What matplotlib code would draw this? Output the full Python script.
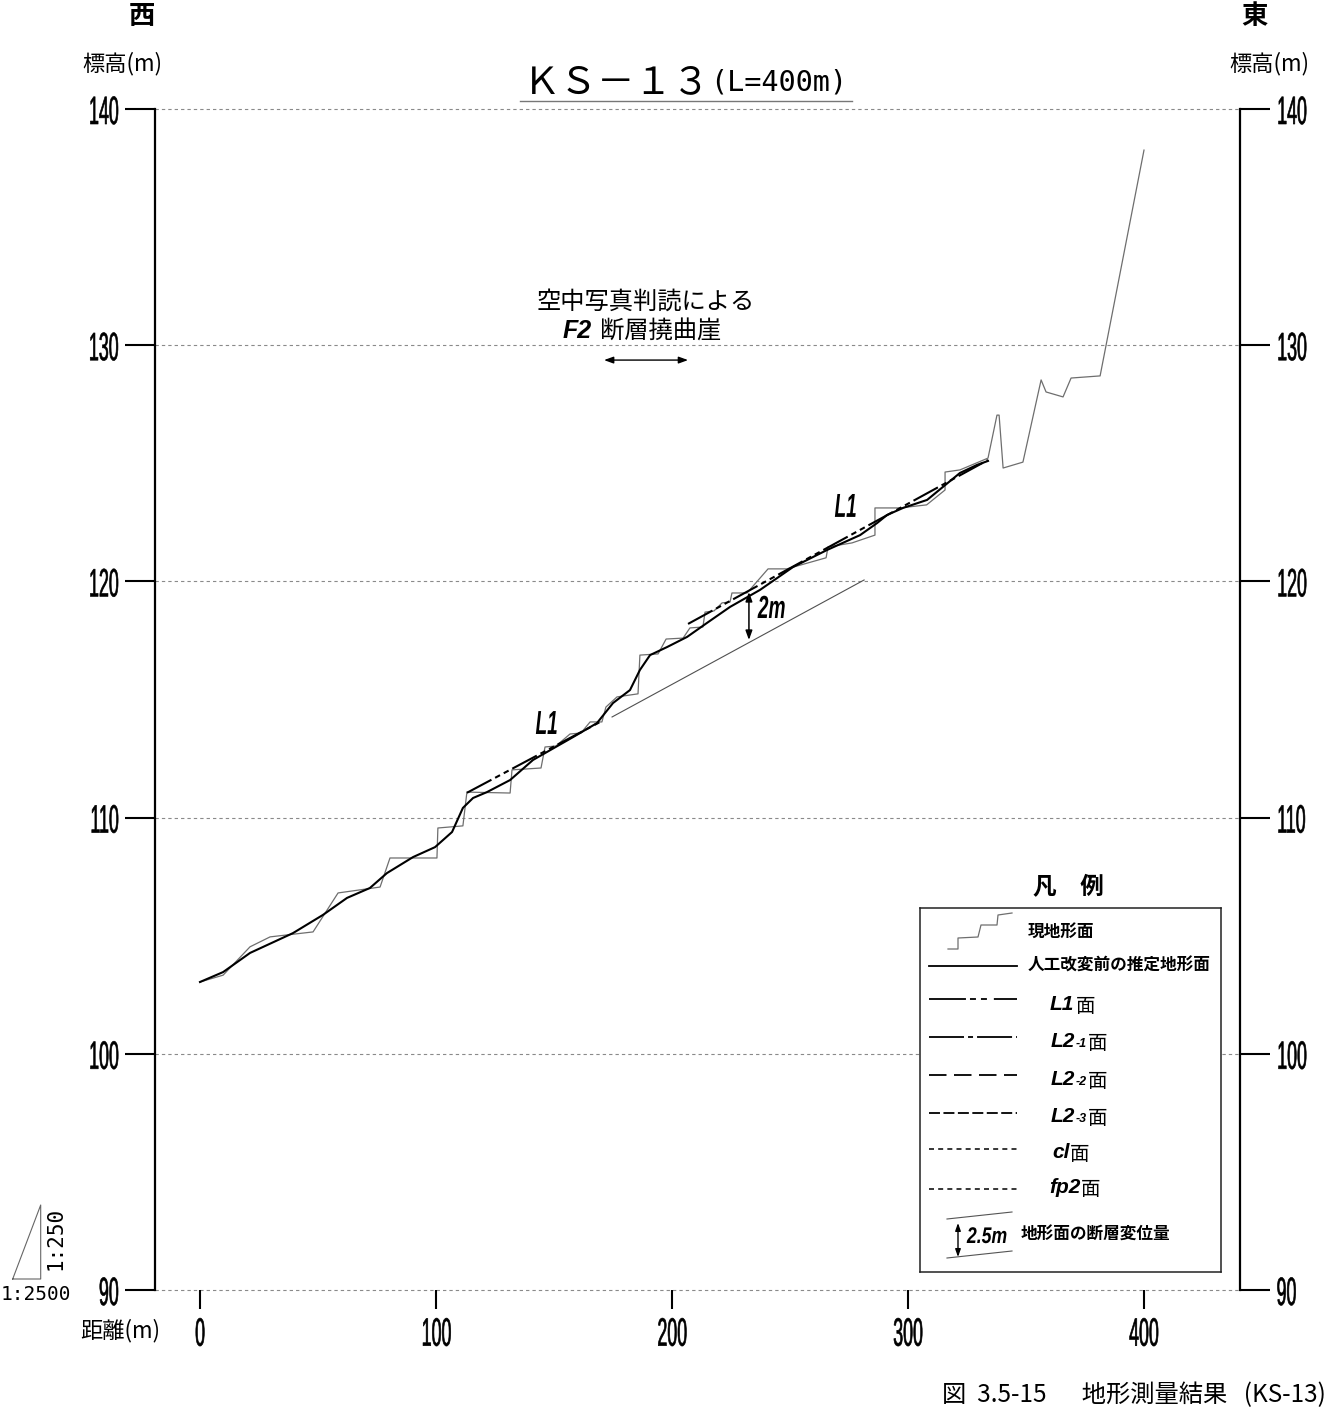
import matplotlib
matplotlib.use('Agg')
import matplotlib.pyplot as plt
import matplotlib.text as mtext
from matplotlib.patheffects import AbstractPathEffect
from matplotlib.transforms import Affine2D, Bbox
from matplotlib.lines import Line2D

plt.rcParams['lines.scale_dashes'] = False

# ---------------- data ----------------
# 現地形面 (current ground surface, survey line)
gray_x = [0, 9.8, 21.2, 29.7, 47.9, 58.5, 76.3, 80.5, 100.4, 100.8, 111.4, 113.1, 131.4, 132.2,
          144.5, 146.2, 150.8, 156.8, 161.4, 165.3, 170.3, 172.0, 176.7, 185.6, 186.4, 194.1,
          197.5, 204.7, 207.6, 213.1, 214.0, 217.8, 221.2, 224.6, 225.4, 231.8, 240.7, 248.7,
          265.3, 266.1, 276.3, 286.0, 286.0, 296.6, 307.9, 315.7, 315.7, 322.0, 333.9, 337.7,
          338.6, 340.3, 348.7, 356.4, 358.5, 365.7, 369.1, 381.4, 400.0]
gray_y = [103.04, 103.33, 104.53, 104.95, 105.16, 106.81, 107.06, 108.29, 108.29, 109.56, 109.65,
          111.08, 111.04, 112.02, 112.10, 112.99, 113.03, 113.54, 113.58, 114.05, 114.05, 114.68,
          115.11, 115.24, 116.88, 116.93, 117.56, 117.60, 118.03, 118.07, 118.70, 118.75, 119.09,
          119.13, 119.51, 119.51, 120.53, 120.53, 121.00, 121.46, 121.63, 121.96, 123.11, 123.11,
          123.24, 123.87, 124.63, 124.72, 125.22, 127.04, 127.04, 124.80, 125.05, 128.53, 128.02,
          127.81, 128.61, 128.70, 138.26]
# 人工改変前の推定地形面 (estimated surface before modification)
black_x = [0, 9.8, 21.2, 39.4, 52.1, 62.3, 72.0, 79.2, 90.3, 99.6, 106.8, 111.4, 115.7, 121.6,
           131.4, 141.1, 158.1, 168.2, 175.0, 182.2, 186.4, 190.7, 197.9, 206.4, 214.8, 224.6,
           237.3, 251.3, 265.7, 279.7, 286.9, 291.1, 297.9, 308.1, 314.8, 322.0, 329.2, 333.9]
black_y = [103.04, 103.46, 104.27, 105.11, 105.88, 106.60, 107.02, 107.65, 108.33, 108.75, 109.39,
           110.41, 110.83, 111.08, 111.59, 112.44, 113.41, 114.00, 114.85, 115.40, 116.25, 116.88,
           117.22, 117.65, 118.24, 118.92, 119.64, 120.61, 121.33, 121.96, 122.47, 122.81, 123.11,
           123.45, 124.00, 124.59, 124.93, 125.10]
# L1 surfaces
L1a_x = [113.1, 170.3]
L1a_y = [111.05, 114.09]
L1b_x = [206.8, 333.9]
L1b_y = [118.20, 125.14]
# displaced surface line and 2 m arrow
disp_x = [174.6, 281.4]
disp_y = [114.26, 120.06]
arrow2m_x = 232.6
arrow2m_y = [119.55, 117.52]
# F2 scarp (air-photo) arrow
f2_x = [171.2, 206.8]
f2_y = 129.37

yticks = [90, 100, 110, 120, 130, 140]
xticks = [0, 100, 200, 300, 400]
ytick_labels = [str(v) for v in yticks]
xtick_labels = [str(v) for v in xticks]

# ---------------- helpers ----------------
W, H = 1339, 1410
CJK = ['Noto Sans CJK JP', 'DejaVu Sans']
LAT = 'Liberation Sans'


class Squeeze(AbstractPathEffect):
    """Condense text horizontally (the drawing uses a very narrow font)."""
    def __init__(self, s, anchor='center', stroke=0.0):
        super().__init__()
        self.s = s
        self.anchor = anchor
        self.stroke = stroke

    def draw_path(self, renderer, gc, tpath, affine, rgbFace=None):
        bb = tpath.get_extents()
        if self.anchor == 'left':
            cx = bb.x0
        elif self.anchor == 'right':
            cx = bb.x1
        else:
            cx = 0.5 * (bb.x0 + bb.x1)
        t = Affine2D().translate(-cx, 0).scale(self.s, 1).translate(cx, 0) + affine
        if self.stroke > 0 and rgbFace is not None:
            gc0 = renderer.new_gc()
            gc0.copy_properties(gc)
            gc0.set_linewidth(self.stroke)
            gc0.set_foreground(rgbFace)
            gc0.set_joinstyle('round')
            renderer.draw_path(gc0, tpath, t, rgbFace)
            gc0.restore()
        else:
            renderer.draw_path(gc, tpath, t, rgbFace)


class SqText(mtext.Text):
    """Text drawn horizontally condensed; its extent reports the condensed box."""
    def __init__(self, x, y, s, squeeze=1.0, anchor='center', **kw):
        super().__init__(x, y, s, **kw)
        self._sq = squeeze
        self._sq_anchor = anchor
        self.set_path_effects([Squeeze(squeeze, anchor)])

    def get_window_extent(self, renderer=None, dpi=None):
        bb = super().get_window_extent(renderer=renderer, dpi=dpi)
        w = bb.width * self._sq
        if self._sq_anchor == 'left':
            x0 = bb.x0
        elif self._sq_anchor == 'right':
            x0 = bb.x1 - w
        else:
            x0 = bb.x0 + (bb.width - w) / 2
        return Bbox.from_bounds(x0, bb.y0, w, bb.height)


def sq_text(axes, x, y, s, squeeze, anchor, **kw):
    t = SqText(x, y, s, squeeze=squeeze, anchor=anchor, **kw)
    axes.add_artist(t)
    return t


def fx(x):
    return x / W


def fy(y):
    return 1 - y / H


fig = plt.figure(figsize=(W / 100, H / 100), dpi=100)
fig.patch.set_facecolor('white')

ax = fig.add_axes([fx(155), fy(1290), (1240 - 155) / W, (1290 - 109) / H])
ax.set_xlim(-45 / 2.36, 1040 / 2.36)
ax.set_ylim(90, 140)
ax.set_facecolor('none')

# spines / ticks
ax.spines['top'].set_visible(False)
ax.spines['bottom'].set_visible(False)
for s in ['left', 'right']:
    ax.spines[s].set_linewidth(1.6)
ax.set_yticks(yticks)
ax.set_yticklabels(ytick_labels)
ax.set_xticks(xticks)
ax.set_xticklabels(xtick_labels)
ax.tick_params(axis='y', left=True, right=True, labelleft=True, labelright=True,
               direction='out', length=21.6, width=1.5, pad=4, labelsize=28.5)
ax.tick_params(axis='x', bottom=True, top=False, direction='out', length=13.5,
               width=1.5, pad=5, labelsize=28.5)
for t in ax.yaxis.get_major_ticks():
    t.label1.set_fontfamily(LAT)
    t.label2.set_fontfamily(LAT)
    t.label1.set_path_effects([Squeeze(0.45, 'right', stroke=0.45)])
    t.label2.set_path_effects([Squeeze(0.45, 'left', stroke=0.45)])
for t in ax.xaxis.get_major_ticks():
    t.label1.set_fontfamily(LAT)
    t.label1.set_path_effects([Squeeze(0.45, 'center', stroke=0.45)])

# dashed grid lines
for v in yticks:
    ax.axhline(v, color='#8a8a8a', lw=0.8, dashes=(2.4, 2.2), clip_on=False, zorder=1)

# profile lines
ax.plot(gray_x, gray_y, color='#6e6e6e', lw=0.9, zorder=3)
ax.plot(black_x, black_y, color='black', lw=1.5, zorder=4)
L1_DASH = (20, 3, 4, 3, 4, 3)
ax.plot(L1a_x, L1a_y, color='black', lw=1.5, dashes=L1_DASH, zorder=4)
ax.plot(L1b_x, L1b_y, color='black', lw=1.5, dashes=L1_DASH, zorder=4)
ax.plot(disp_x, disp_y, color='#505050', lw=0.8, zorder=3)

arrow_style = '<|-|>,head_length=0.55,head_width=0.2'
ax.annotate('', xy=(arrow2m_x, arrow2m_y[1]), xytext=(arrow2m_x, arrow2m_y[0]),
            arrowprops=dict(arrowstyle=arrow_style, lw=1.1, color='black',
                            shrinkA=0, shrinkB=0), zorder=5)
ax.annotate('', xy=(f2_x[1], f2_y), xytext=(f2_x[0], f2_y),
            arrowprops=dict(arrowstyle=arrow_style, lw=1.0, color='black',
                            shrinkA=0, shrinkB=0), zorder=5)

bi = dict(fontfamily=LAT, fontweight='bold', fontstyle='italic', color='black')
sq_text(ax, 147.0, 113.54, 'L1', 0.57, 'center', fontsize=24, ha='center', va='baseline', **bi)
sq_text(ax, 273.7, 122.73, 'L1', 0.57, 'center', fontsize=24, ha='center', va='baseline', **bi)
sq_text(ax, 242.4, 118.45, '2m', 0.6, 'center', fontsize=23, ha='center', va='baseline', **bi)

ax.text(189.0, 131.83, '空中写真判読による', fontsize=17.5, ha='center', va='center',
        family=CJK)
ax.text(166.1, 130.30, 'F2', fontsize=18, ha='right', va='baseline', **bi)
ax.text(169.5, 130.30, '断層撓曲崖', fontsize=17.5, ha='left', va='baseline', family=CJK)

# ---------------- texts outside the axes ----------------
fig.text(fx(142), fy(16), '西', fontsize=19, fontweight='bold', ha='center', va='center', family=CJK)
fig.text(fx(1254), fy(16), '東', fontsize=19, fontweight='bold', ha='center', va='center', family=CJK)
fig.text(fx(122), fy(64), '標高(m)', fontsize=16, ha='center', va='center', family=CJK)
fig.text(fx(1269), fy(64), '標高(m)', fontsize=16, ha='center', va='center', family=CJK)
fig.text(fx(120), fy(1331), '距離(m)', fontsize=16, ha='center', va='center', family=CJK)

fig.text(fx(617), fy(83), 'ＫＳ－１３', fontsize=27, ha='center', va='center', family=CJK)
fig.text(fx(779), fy(83), '(L=400m)', fontsize=20.5, ha='center', va='center',
         family=['DejaVu Sans Mono'])
fig.add_artist(Line2D([fx(520), fx(852)], [fy(101), fy(101)], color='#777777', lw=1.0))

fig.text(fx(1326), fy(1395), '図  3.5-15　  地形測量結果   (KS-13)', fontsize=17.5, ha='right',
         va='center', family=CJK)

# scale triangle
fig.add_artist(Line2D([fx(12.7), fx(40.7), fx(40.7), fx(12.7)],
                      [fy(1279), fy(1279), fy(1205), fy(1279)], color='#666666', lw=0.8))
fig.text(fx(36), fy(1295), '1:2500', fontsize=14, ha='center', va='center',
         family=['DejaVu Sans Mono'])
fig.text(fx(55), fy(1238), '1:250', fontsize=15, ha='center', va='center', rotation=90,
         family=['DejaVu Sans Mono'])

# ---------------- legend ----------------
fig.text(fx(1068), fy(887), '凡　例', fontsize=17, fontweight='bold', ha='center', va='center',
         family=CJK)
lax = fig.add_axes([fx(920), fy(1272), 301 / W, 364 / H])
lax.set_xlim(920, 1221)
lax.set_ylim(1272, 908)
lax.set_xticks([])
lax.set_yticks([])
lax.set_facecolor('white')
for s in lax.spines.values():
    s.set_linewidth(1.1)
    s.set_color('#222222')

lax.plot([948, 958, 958, 978, 981, 997, 998, 1012], [949, 949, 938, 937, 925, 925, 915, 913],
         color='#6e6e6e', lw=0.9)
lx = [929, 1017]
lax.plot(lx, [966, 966], color='black', lw=1.3)
lax.plot(lx, [999, 999], color='black', lw=1.3, dashes=(26.6, 2.9, 4.3, 3.6, 4.3, 5))
lax.plot(lx, [1037, 1037], color='black', lw=1.3, dashes=(25.2, 2.9, 3.6, 2.9))
lax.plot(lx, [1075, 1075], color='black', lw=1.3, dashes=(12.6, 5.4))
lax.plot(lx, [1113, 1113], color='black', lw=1.3, dashes=(7.9, 2.5))
lax.plot(lx, [1149, 1149], color='black', lw=1.1, dashes=(3.6, 3.0))
lax.plot(lx, [1189, 1189], color='black', lw=1.1, dashes=(3.6, 3.0))
lax.plot([947, 1012], [1219, 1212], color='#555555', lw=0.8)
lax.plot([947, 1012], [1258, 1251], color='#555555', lw=0.8)
lax.annotate('', xy=(958, 1257), xytext=(958, 1223),
             arrowprops=dict(arrowstyle='<|-|>,head_length=0.45,head_width=0.16', lw=1.0,
                             color='black', shrinkA=0, shrinkB=0))

lt = dict(fontsize=12, fontweight='bold', ha='left', va='center', family=CJK)
lax.text(1028, 932, '現地形面', **lt)
lax.text(1028, 966, '人工改変前の推定地形面', **lt)
lax.text(1021, 1235, '地形面の断層変位量', **lt)

men = dict(fontsize=14, ha='left', va='baseline', family=CJK)
lbl = dict(ha='left', va='baseline', **bi)

lax.text(1050, 1010, 'L1', fontsize=15, **lbl)
lax.text(1076, 1012, '面', **men)
for yb, sub in [(1047, '-1'), (1085, '-2'), (1122, '-3')]:
    lax.text(1051, yb, 'L2', fontsize=15, **lbl)
    lax.text(1076, yb, sub, fontsize=9, **lbl)
    lax.text(1088, yb + 2, '面', **men)
lax.text(1052, 1158, 'cl', fontsize=15, **lbl)
lax.text(1070, 1160, '面', **men)
lax.text(1049, 1193, 'fp2', fontsize=15, **lbl)
lax.text(1081, 1195, '面', **men)
sq_text(lax, 967, 1243, '2.5m', 0.78, 'left', fontsize=16.3, ha='left', va='baseline', **bi)

fig.savefig('out.png', dpi=100, facecolor='white')
